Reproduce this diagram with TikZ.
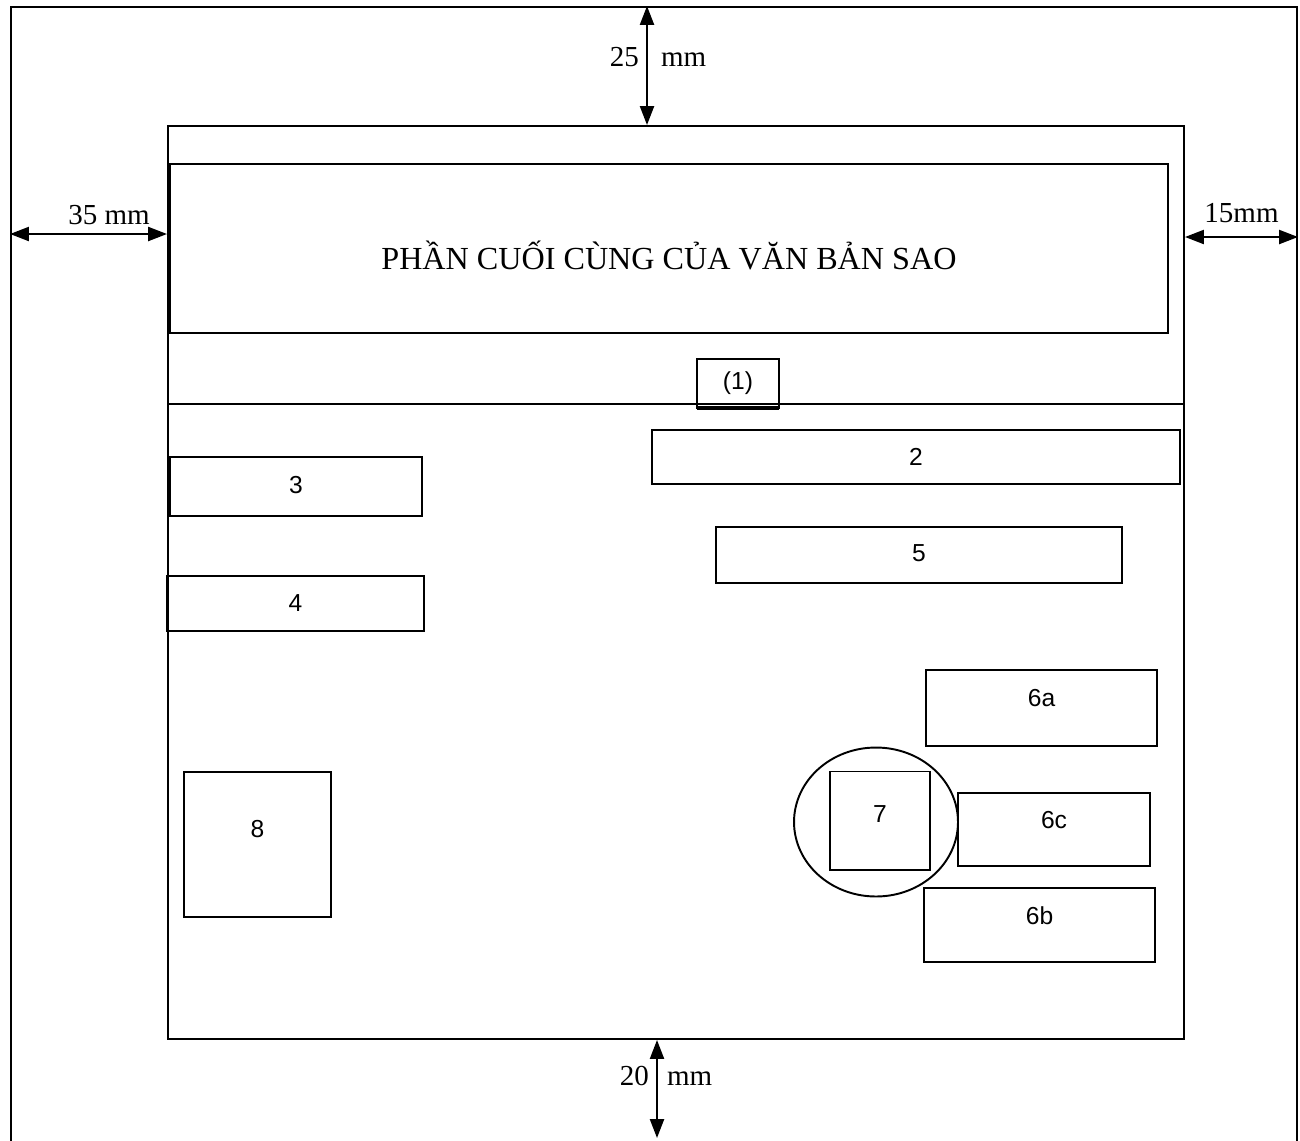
\documentclass[tikz,border=0pt]{standalone}
\usepackage{fontspec}
\setmainfont{Liberation Serif}
\setsansfont{Liberation Sans}
\usetikzlibrary{arrows.meta,shapes.geometric}

\begin{document}
\begin{tikzpicture}[x=0.02cm,y=-0.02cm]
    \tikzset{partbox/.style={draw,line width=0.9pt,inner sep=0pt,outer sep=0pt,font=\sffamily\fontsize{14}{16}\selectfont},
      lift/.style={text depth=#1},
      dimarrow/.style={{Triangle[length=0.38cm,width=0.28cm]}-{Triangle[length=0.38cm,width=0.28cm]},line width=1.3pt},
      dimtext/.style={font=\fontsize{16.5}{18}\selectfont,inner sep=0pt}}
    \clip (0,0) rectangle (1300,1140);
    \node[draw,line width=1.3pt,minimum width=25.72cm,minimum height=22.86cm,inner sep=0pt] (sheet) at (654,578.5) {};
    \node[draw,line width=1.2pt,minimum width=20.32cm,minimum height=18.26cm,inner sep=0pt] (page) at (676,582.5) {};
    \node[draw,line width=1pt,minimum width=19.96cm,minimum height=3.38cm,inner sep=0pt,text height=0.84cm,font=\fontsize{18.3}{20}\selectfont] (tail) at (669,248.5) {PHẦN CUỐI CÙNG CỦA VĂN BẢN SAO};
    \coordinate (split) at (0,404);
    \draw[line width=1.1pt] (page.west |- split) -- (page.east |- split);
    \node[partbox,line width=1pt,minimum width=1.64cm,minimum height=0.98cm] (mark) at (738,383.5) {(1)};
    \draw[line width=2pt] (mark.south west) -- (mark.south east);
    \node[partbox,minimum width=10.56cm,minimum height=1.08cm] (b2) at (916,457) {2};
    \node[partbox,minimum width=5.04cm,minimum height=1.18cm,lift=0.08cm] (b3) at (296,486.5) {3};
    \node[partbox,minimum width=5.14cm,minimum height=1.1cm] (b4) at (295.5,603.5) {4};
    \node[partbox,minimum width=8.12cm,minimum height=1.12cm,lift=0.06cm] (b5) at (919,555) {5};
    \node[partbox,minimum width=4.62cm,minimum height=1.52cm,lift=0.4cm] (b6a) at (1041.5,708) {6a};
    \node[draw,ellipse,line width=1.1pt,minimum width=3.28cm,minimum height=2.98cm,inner sep=0pt] (seal) at (876,822) {};
    \node[partbox,line width=0.6pt,minimum width=2cm,minimum height=1.98cm,lift=0.24cm] (b7) at (880,820.5) {7};
    \node[partbox,minimum width=3.84cm,minimum height=1.46cm,lift=0.38cm] (b6c) at (1054,829.5) {6c};
    \node[partbox,minimum width=4.62cm,minimum height=1.48cm,lift=0.36cm] (b6b) at (1039.5,925) {6b};
    \node[partbox,minimum width=2.94cm,minimum height=2.9cm,lift=0.62cm] (b8) at (257.5,844.5) {8};
    \coordinate (topx) at (647,0);
    \coordinate (leftY) at (0,234);
    \coordinate (rightY) at (0,237);
    \coordinate (botEnd) at (657,1138);
    \draw[dimarrow] (sheet.north -| topx) -- node[dimtext,anchor=base east,pos=0.51,xshift=-0.14cm]{25} node[dimtext,anchor=base west,pos=0.51,xshift=0.26cm]{mm} (page.north -| topx);
    \draw[dimarrow] (sheet.west |- leftY) -- node[dimtext,anchor=base,pos=0.63,yshift=0.2cm]{35 mm} (page.west |- leftY);
    \draw[dimarrow] (page.east |- rightY) -- node[dimtext,anchor=base,pos=0.5,yshift=0.3cm]{15mm} (sheet.east |- rightY);
    \draw[dimarrow] (page.south -| botEnd) -- node[dimtext,anchor=base east,pos=0.46,xshift=-0.14cm]{20} node[dimtext,anchor=base west,pos=0.46,xshift=0.18cm]{mm} (botEnd);
  \end{tikzpicture}
\end{document}
